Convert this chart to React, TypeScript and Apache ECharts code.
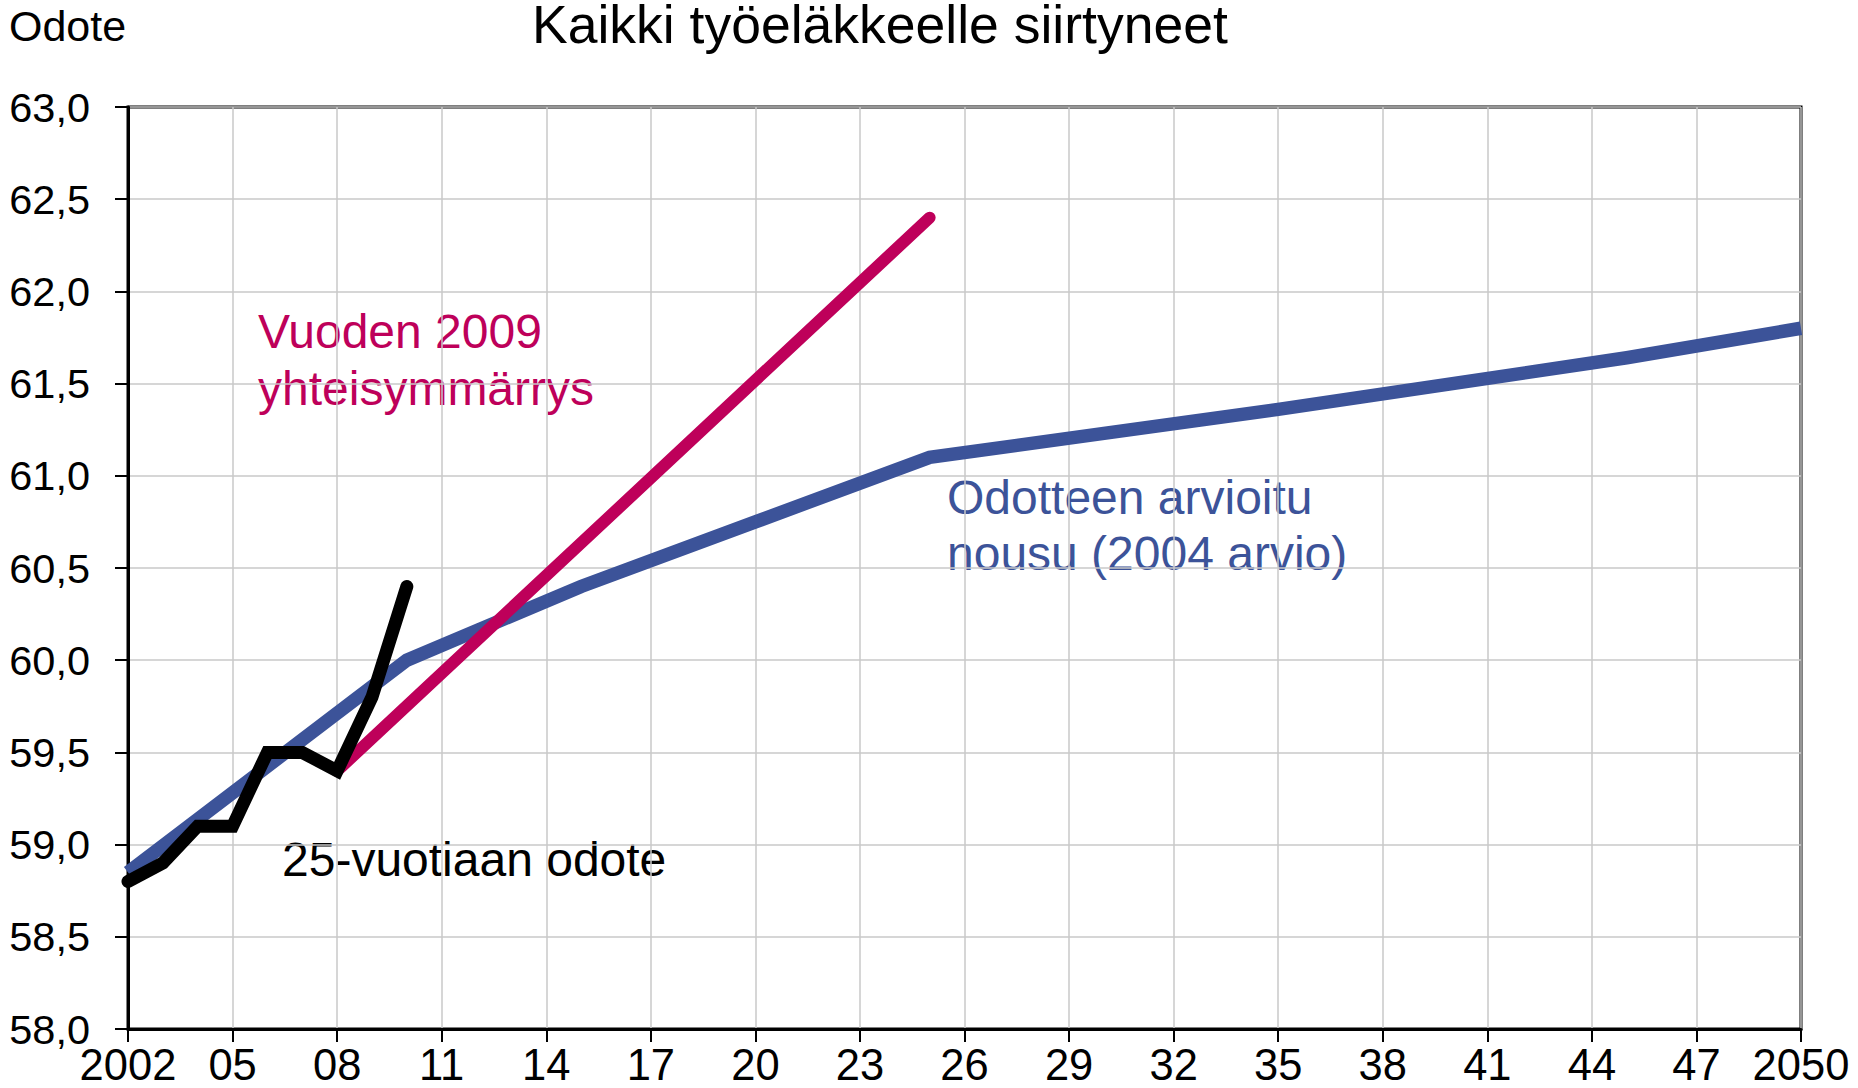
import React, { useEffect, useRef } from "react";
import * as echarts from "echarts";

// ---- Data ----
const startYear = 2002;
const endYear = 2050;
const yMin = 58;
const yMax = 63;

// 25-vuotiaan odote (observed)
const observedYears = [2002, 2003, 2004, 2005, 2006, 2007, 2008, 2009, 2010];
const observedValues = [58.8, 58.9, 59.1, 59.1, 59.5, 59.5, 59.4, 59.8, 60.4];

// Odotteen arvioitu nousu (2004 arvio)
const estimateYears = [2002, 2010, 2015, 2020, 2025, 2030, 2035, 2040, 2045, 2050];
const estimateValues = [58.85, 60.0, 60.4, 60.75, 61.1, 61.23, 61.36, 61.5, 61.64, 61.8];

// Vuoden 2009 yhteisymmärrys
const agreementYears = [2008, 2025];
const agreementValues = [59.4, 62.4];

const titleText = "Kaikki työeläkkeelle siirtyneet";
const yAxisTitle = "Odote";
const agreementLabel = ["Vuoden 2009", "yhteisymmärrys"];
const estimateLabel = ["Odotteen arvioitu", "nousu (2004 arvio)"];
const observedLabel = "25-vuotiaan odote";

const BLUE = "#3C5399";
const MAGENTA = "#BE005A";
const FONT = "'Liberation Sans', Arial, sans-serif";

const toPairs = (years: number[], values: number[]) =>
  years.map((y, i) => [y - startYear, values[i]]);

const xLabel = (v: number) => {
  const year = startYear + v;
  if (year === startYear || year === endYear) return String(year);
  return String(year % 100).padStart(2, "0");
};

function txt(
  text: string,
  x: number,
  y: number,
  size: number,
  color: string,
  vAlign = "middle"
) {
  return {
    type: "text",
    silent: true,
    style: {
      text,
      x,
      y,
      fill: color,
      fontSize: size,
      fontFamily: FONT,
      align: "left",
      textAlign: "left",
      verticalAlign: vAlign,
      textVerticalAlign: vAlign,
    },
  };
}

export default function App() {
  const ref = useRef<HTMLDivElement>(null);

  useEffect(() => {
    if (!ref.current) return;
    const chart = echarts.init(ref.current, undefined, { renderer: "svg" });
    chart.setOption({
      animation: false,
      backgroundColor: "#ffffff",
      textStyle: { fontFamily: FONT },
      grid: {
        left: 128,
        right: 57,
        top: 107,
        bottom: 59,
        show: true,
        borderColor: "#000",
        borderWidth: 3,
        backgroundColor: "transparent",
      },
      xAxis: {
        type: "value",
        min: 0,
        max: endYear - startYear,
        interval: 3,
        axisLine: { show: true, onZero: false, lineStyle: { color: "#000", width: 3 } },
        axisTick: { show: true, length: 13, lineStyle: { color: "#000", width: 2 } },
        splitLine: { show: true, lineStyle: { color: "#C8C8C8", width: 1.5 } },
        axisLabel: {
          formatter: xLabel,
          color: "#000",
          fontSize: 43.5,
          fontFamily: FONT,
          margin: 14,
          showMinLabel: true,
          showMaxLabel: true,
        },
      },
      yAxis: {
        type: "value",
        min: yMin,
        max: yMax,
        interval: 0.5,
        axisLine: { show: true, lineStyle: { color: "#000", width: 3 } },
        axisTick: { show: true, length: 13, lineStyle: { color: "#000", width: 2 } },
        splitLine: { show: true, lineStyle: { color: "#C8C8C8", width: 1.5 } },
        axisLabel: {
          formatter: (v: number) => v.toFixed(1).replace(".", ","),
          color: "#000",
          fontSize: 41.5,
          fontFamily: FONT,
          margin: 38,
        },
      },
      series: [
        {
          name: "Odotteen arvioitu nousu (2004 arvio)",
          type: "line",
          data: toPairs(estimateYears, estimateValues),
          showSymbol: false,
          symbol: "none",
          z: 2,
          lineStyle: { color: BLUE, width: 13.5, cap: "butt", join: "miter" },
        },
        {
          name: "Vuoden 2009 yhteisymmärrys",
          type: "line",
          data: toPairs(agreementYears, agreementValues),
          showSymbol: false,
          symbol: "none",
          z: 3,
          lineStyle: { color: MAGENTA, width: 12, cap: "round" },
        },
        {
          name: "25-vuotiaan odote",
          type: "line",
          data: toPairs(observedYears, observedValues),
          showSymbol: false,
          symbol: "none",
          z: 4,
          lineStyle: { color: "#000", width: 13, cap: "round", join: "miter" },
        },
      ],
      graphic: [
        txt(titleText, 532, -3, 53.5, "#000", "top"),
        txt(yAxisTitle, 9, 26, 43, "#000"),
        txt(agreementLabel[0], 258, 331, 48, MAGENTA),
        txt(agreementLabel[1], 258, 388, 48, MAGENTA),
        txt(estimateLabel[0], 947, 497, 48, BLUE),
        txt(estimateLabel[1], 947, 553, 48, BLUE),
        txt(observedLabel, 282, 859, 48, "#000"),
      ],
    });
    return () => chart.dispose();
  }, []);

  return (
    <div
      ref={ref}
      style={{ position: "fixed", left: 0, top: 0, width: 1858, height: 1088, background: "#fff" }}
    />
  );
}
